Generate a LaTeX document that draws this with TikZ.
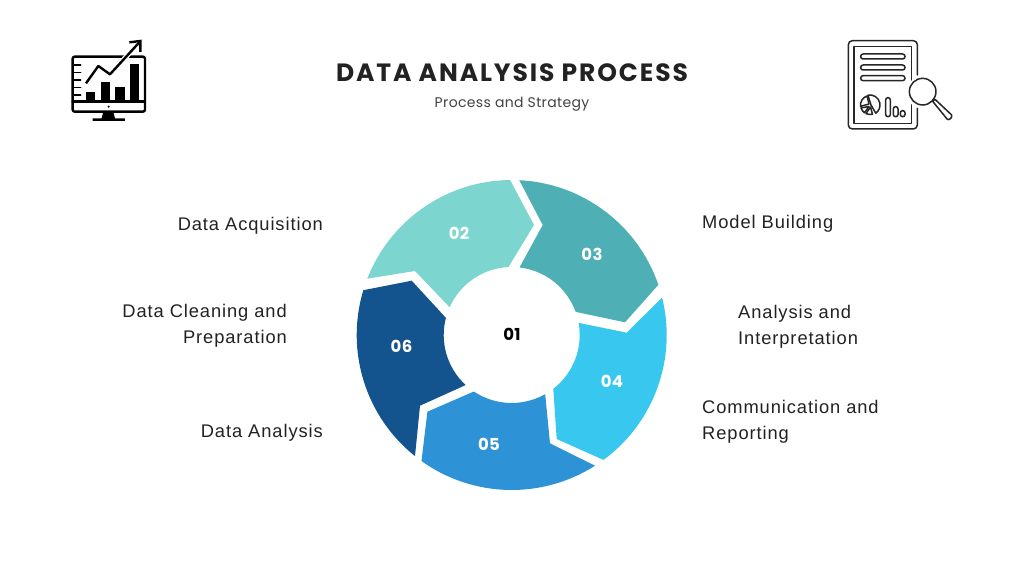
\documentclass[tikz,border=0pt]{standalone}
\usepackage{fontspec}
\setmainfont{Liberation Sans}
\newfontfamily\titlefont[LetterSpace=7.6]{Poppins}
\newfontfamily\numfont[LetterSpace=2.0]{Poppins}
\newfontfamily\labelfont[LetterSpace=5.0]{Liberation Sans}
\newfontfamily\subfont[LetterSpace=2.5]{Poppins}
\definecolor{segA}{HTML}{7DD5D0}
\definecolor{segB}{HTML}{4EB0B5}
\definecolor{segC}{HTML}{38C8EF}
\definecolor{segD}{HTML}{2E93D6}
\definecolor{segE}{HTML}{14548E}
\definecolor{ink}{HTML}{222222}
\tikzset{
  seg/.style={draw=none},
  num/.style={font=\numfont\bfseries\fontsize{16.5}{17}\selectfont,text=white,inner sep=0pt},
  lab/.style={font=\labelfont\fontsize{18.3}{26}\selectfont,text=ink,inner sep=0pt,align=left},
  labr/.style={lab,align=right},
  icon/.style={draw=black,line width=1.5pt,line join=round,line cap=round},
  iconthick/.style={draw=black,line width=2.4pt,line join=round,line cap=round},
  iconthin/.style={draw=black!85,line width=1.5pt,line join=round,line cap=round},
}
\begin{document}
\begin{tikzpicture}[x=1pt,y=1pt]
\useasboundingbox[fill=white] (0,0) rectangle (1024,576);
\begin{scope}[shift={(511.7,241)}]
\def\Ro{155}\def\Ri{68}
\fill[seg,segA] (158.7:\Ro) arc[start angle=158.7,end angle=90.6,radius=\Ro]
  -- (22.3,110) -- (92.8:\Ri) arc[start angle=92.8,end angle=155.9,radius=\Ri]
  -- (-96.7,64) -- cycle;
\fill[seg,segB] (87.2:\Ro) arc[start angle=87.2,end angle=18.9,radius=\Ro]
  -- (113.3,12.7) -- (19.9:\Ri) arc[start angle=19.9,end angle=83.4,radius=\Ri]
  -- (31,110) -- cycle;
\fill[seg,segC] (14:\Ro) arc[start angle=14,end angle=-53.7,radius=\Ro]
  -- (45,-104) -- (-52.3:\Ri) arc[start angle=-52.3,end angle=10.3,radius=\Ri]
  -- (115,2.3) -- cycle;
\fill[seg,segD] (-57.5:\Ro) arc[start angle=-57.5,end angle=-125.6,radius=\Ro]
  -- (-84.3,-76.7) -- (-123.8:\Ri) arc[start angle=-123.8,end angle=-60.5,radius=\Ri]
  -- (38.3,-108.3) -- cycle;
\fill[seg,segE] (231.4:\Ro) arc[start angle=231.4,end angle=163.2,radius=\Ro]
  -- (-100,54.3) -- (165.4:\Ri) arc[start angle=165.4,end angle=227.4,radius=\Ri]
  -- (-91.7,-70.7) -- cycle;
\end{scope}
\node[num] (n2) at (459,342.5) {02};
\node[num] (n3) at (592,321.5) {03};
\node[num] (n4) at (612,194.5) {04};
\node[num] (n5) at (489,131.5) {05};
\node[num] (n6) at (401.5,229.5) {06};
\node[num,text=black] (n1) at (512,241.5) {01};
\node[font=\titlefont\bfseries\fontsize{25}{25}\selectfont,text=ink,inner sep=0pt] (title) at (512,503.5) {DATA ANALYSIS PROCESS};
\node[font=\subfont\fontsize{14}{16}\selectfont,text=ink!85,inner sep=0pt] (subtitle) at (512,471.5) {Process and Strategy};
\node[labr,anchor=east] (l2) at (323,350.5) {Data Acquisition};
\node[labr,anchor=east] (l6) at (287,250.5) {Data Cleaning and\\Preparation};
\node[labr,anchor=east] (l5) at (323,143) {Data Analysis};
\node[lab,anchor=west] (l3) at (702,352) {Model Building};
\node[lab,anchor=west] (l4) at (738,249) {Analysis and\\Interpretation};
\node[lab,anchor=west] (l7) at (702,154) {Communication and\\Reporting};
% left icon
\begin{scope}[shift={(60,546)},x=0.3333pt,y=-0.3333pt]
\draw[iconthick,rounded corners=2pt] (38,80) rectangle (255,245);
\draw[iconthick] (38,215) -- (255,215);
\foreach \yy in {105,127,150,172,195} \draw[icon] (38,\yy) -- (62,\yy);
\fill (78,187) rectangle (106,215);
\fill (122,157) rectangle (150,215);
\fill (166,170) rectangle (194,215);
\fill (210,103) rectangle (238,215);
\fill (146,230) circle[radius=1.1pt];
\fill (130,245) -- (160,245) -- (165,265) -- (195,265) -- (195,273) -- (98,273) -- (98,265) -- (125,265) -- cycle;
\draw[draw=white,line width=5pt] (78,160) -- (115,108) -- (150,133) -- (238,37);
\draw[iconthick,line cap=butt] (78,160) -- (115,108) -- (150,133) -- (238,37);
\draw[iconthick,line cap=butt,line join=miter] (208,37) -- (241,33) -- (241,66);
\end{scope}
% right icon
\begin{scope}[shift={(840,546)},x=0.3333pt,y=-0.3333pt]
\draw[iconthin,rounded corners=4pt] (232,135) -- (232,32) -- (25,32) -- (25,297) -- (232,297) -- (232,235);
\draw[iconthin] (215,150) -- (215,50) -- (42,50) -- (42,280) -- (215,280) -- (215,225);
\foreach \yy in {72,105,137} \draw[iconthin,rounded corners=2.4pt] (62,\yy) rectangle (195,\yy+15);
\draw[iconthin,rounded corners=2.2pt] (137,260) rectangle (151,203);
\draw[iconthin,rounded corners=2.2pt] (160,260) rectangle (174,230);
\draw[iconthin,rounded corners=2.2pt] (181,260) rectangle (195,242);
\draw[iconthin,fill=white] (248,185) circle[radius=13.3pt];
\draw[iconthin,fill=white] (278,214) -- (285,208) -- (335,255) .. controls (338,262) and (328,272) .. (322,268) -- cycle;
\end{scope}
% pie of the right icon
\begin{scope}[shift={(870,471)}]
\draw[iconthin] (1,0) -- (102:10) arc[start angle=102,end angle=-55,radius=10] -- cycle;
\draw[iconthin] (-1,1) -- (108:9.5) arc[start angle=108,end angle=188,radius=9.5] -- cycle;
\draw[iconthin] (-1,-1.5) -- (198:9.5) arc[start angle=198,end angle=235,radius=9.5] -- cycle;
\draw[iconthin] (0.5,-2) -- (245:9.5) arc[start angle=245,end angle=285,radius=9.5] -- cycle;
\end{scope}
\end{tikzpicture}
\end{document}
